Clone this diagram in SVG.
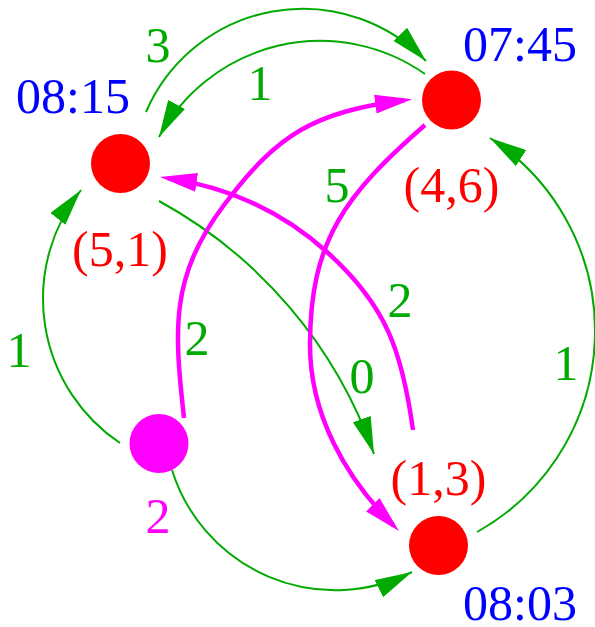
<svg xmlns="http://www.w3.org/2000/svg" width="595" height="627" viewBox="0 0 595 627">
<style>
text{font-family:"Liberation Serif","Times New Roman",serif;font-size:50px}
.t{fill:#0000ff}
.c{fill:#ff0000;text-anchor:middle}
.l{fill:#00aa00;text-anchor:middle}
.g{fill:none;stroke:#00aa00;stroke-width:2}
.m{fill:none;stroke:#ff00ff;stroke-width:4.5}
</style>
<defs>
<marker id="ag" markerUnits="userSpaceOnUse" viewBox="0 0 37 19" markerWidth="37" markerHeight="19" refX="37" refY="9.5" orient="auto"><path d="M0,0 L37,9.5 L0,19 z" fill="#00aa00"/></marker>
<marker id="am" markerUnits="userSpaceOnUse" viewBox="0 0 37 19" markerWidth="37" markerHeight="19" refX="29" refY="9.5" orient="auto"><path d="M0,0 L37,9.5 L0,19 z" fill="#ff00ff"/></marker>
</defs>
<rect width="595" height="627" fill="#ffffff"/>
<g id="connectors">
<path class="g" marker-end="url(#ag)" d="M146,112 A171,171 0 0 1 426,61"/>
<path class="g" marker-end="url(#ag)" d="M425,74 A183,183 0 0 0 159,137"/>
<path class="g" marker-end="url(#ag)" d="M120,443 A174,174 0 0 1 81,190"/>
<path class="g" marker-end="url(#ag)" d="M172,470 A171,171 0 0 0 412,572"/>
<path class="g" marker-end="url(#ag)" d="M477,532 A230,230 0 0 0 490,138"/>
<path class="g" marker-end="url(#ag)" d="M159,201 A464,464 0 0 1 374,454"/>
<path class="m" marker-end="url(#am)" d="M184,418 C174.1,328.5 170,277 224,205 C278,133 314.9,112 404.1,100.3"/>
<path class="m" marker-end="url(#am)" d="M413,430 C402,350.8 386.4,305.5 327,252 C282.4,211.9 227.2,186.9 167.9,178.2"/>
<path class="m" marker-end="url(#am)" d="M425,125 C345.9,194.2 310,240 310,345 C310,413.8 344.7,476.7 393.3,525.3"/>
<text class="l" x="158" y="62">3</text>
<text class="l" x="260" y="100">1</text>
<text class="l" x="337" y="202">5</text>
<text class="l" x="400" y="317">2</text>
<text class="l" x="362" y="393">0</text>
<text class="l" x="197" y="355">2</text>
<text class="l" x="19" y="367">1</text>
<text class="l" x="566" y="380">1</text>
</g>
<g id="node-0815">
<circle cx="120.5" cy="163.5" r="29.5" fill="#ff0000"/>
<text class="t" x="16" y="113">08:15</text>
<text class="c" x="120" y="266">(5,1)</text>
</g>
<g id="node-0745">
<circle cx="451.5" cy="100" r="29.5" fill="#ff0000"/>
<text class="t" x="463" y="61">07:45</text>
<text class="c" x="451.5" y="202">(4,6)</text>
</g>
<g id="node-source">
<circle cx="159" cy="443.5" r="29.5" fill="#ff00ff"/>
<text x="158" y="533" fill="#ff00ff" text-anchor="middle">2</text>
</g>
<g id="node-0803">
<circle cx="438.5" cy="545.5" r="29.5" fill="#ff0000"/>
<text class="t" x="463" y="620">08:03</text>
<text class="c" x="438.5" y="495">(1,3)</text>
</g>
</svg>
